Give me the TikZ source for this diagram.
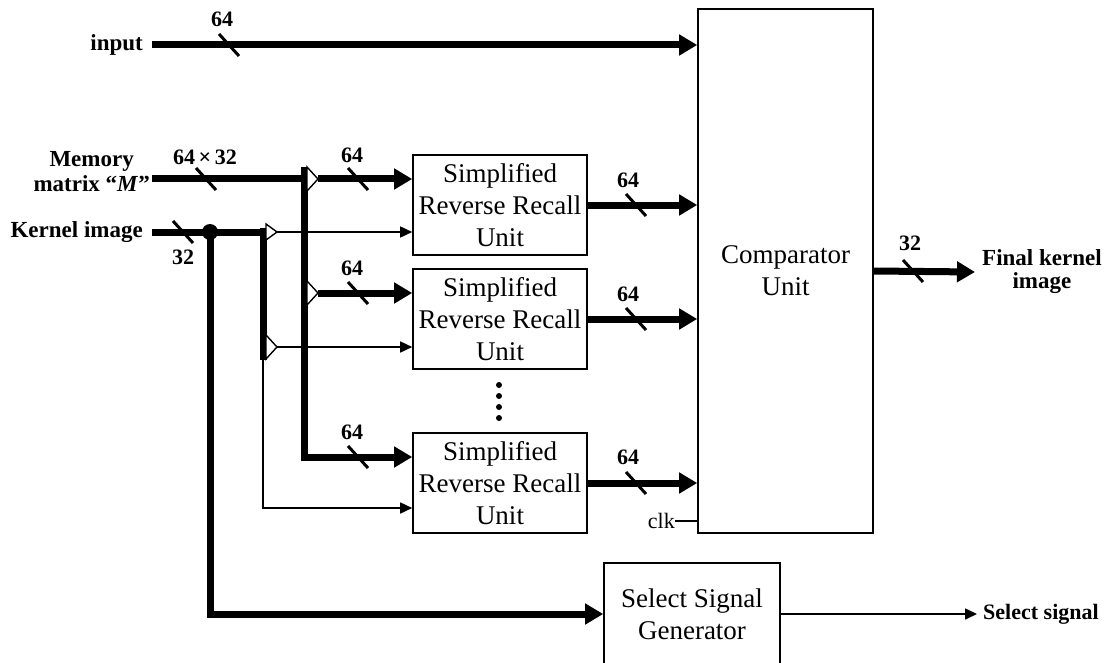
\documentclass[tikz,border=0pt]{standalone}
\usepackage{fontspec}
\setmainfont{Liberation Serif}
\usetikzlibrary{arrows.meta}
\usetikzlibrary{positioning}

\begin{document}
\begin{tikzpicture}[x=1pt,y=-1pt,
  blk/.style={draw,line width=1.6,inner sep=0pt,align=center,font=\fontsize{27}{32}\selectfont},
  lbl/.style={font=\bfseries\fontsize{23}{25}\selectfont,inner sep=0pt,align=center},
  num/.style={font=\bfseries\fontsize{22}{22}\selectfont,inner sep=0pt},
  bus/.style={line width=7,-{Triangle[length=18pt,width=20pt]}},
  busline/.style={line width=7},
  wire/.style={line width=1.6,-{Triangle[length=12pt,width=11pt]}},
  wireline/.style={line width=1.6},
  buf/.style={draw,fill=white,line width=1.4},
  dotnode/.style={circle,fill,inner sep=0pt,minimum size=#1},
  buscut/.pic={\draw[line width=3] (-10,-11) -- (10,11);}]
  \useasboundingbox (0,0) rectangle (1110,663);
  \node[blk,minimum width=175pt,minimum height=524pt] (cmp) at (785.5,271) {Comparator\\Unit};
  \node[blk,minimum width=174pt,minimum height=100pt] (srr1) at (500,205) {Simplified\\Reverse Recall\\Unit};
  \node[blk,minimum width=174pt,minimum height=100pt] (srr2) at (500,319) {Simplified\\Reverse Recall\\Unit};
  \node[blk,minimum width=174pt,minimum height=100pt] (srr3) at (500,483) {Simplified\\Reverse Recall\\Unit};
  \node[blk,minimum width=176pt,minimum height=102pt] (sel) at (692,614) {Select Signal\\Generator};
  \node[lbl,anchor=east] (in) at (143,45) {input};
  \node[lbl,anchor=east] (mem) at (150,172) {Memory\\matrix “\textit{M}”};
  \node[lbl,anchor=east] (ker) at (143,232) {Kernel image};
  \node[lbl,anchor=west,font=\bfseries\fontsize{23}{23}\selectfont] (fin) at (982,272) {Final kernel\\image};
  \node[lbl,anchor=west,font=\bfseries\fontsize{22}{22}\selectfont] (sig) at (983,614) {Select signal};
  \node[font=\fontsize{22}{22}\selectfont,inner sep=0pt,anchor=east] (clk) at (675,521) {clk};
  \foreach \k in {0,...,3}
    \node[dotnode=6pt] (dot\k) at (499,{385+11*\k}) {};
  \coordinate (inS) at (152,45);
  \coordinate (memS) at (152,179);
  \coordinate (kerS) at (152,232);
  \coordinate (mbarT) at (304,167);
  \coordinate (mbarB) at (304,457);
  \coordinate (kbarT) at (263,228);
  \coordinate (kbarB) at (263,360);
  \coordinate (kcorner) at (263,508);
  \coordinate (mb1) at (307,179);
  \coordinate (mb2) at (307,293);
  \coordinate (kb1) at (266,232);
  \coordinate (kb2) at (266,347);
  \coordinate (mt1) at (318,179);
  \coordinate (mt2) at (318,293);
  \coordinate (kt1) at (277,232);
  \coordinate (kt2) at (277,347);
  \draw[wire] (kt1) -- (kt1 -| srr1.west);
  \draw[wire] (kt2) -- (kt2 -| srr2.west);
  \draw[wire] (kbarB) -- (kcorner) -- (kcorner -| srr3.west);
  \draw[bus] (inS) -- (inS -| cmp.west);
  \draw[busline] (memS) -- (memS -| mbarT);
  \draw[bus] (mbarT) -- (mbarB) -- (mbarB -| srr3.west);
  \draw[busline] (kerS) -- (kerS -| kbarT);
  \draw[busline] (kbarT) -- (kbarB);
  \node[dotnode=16pt] (kdot) at (210,232) {};
  \draw[bus] (kdot.center) -- (kdot |- sel.west) -- (sel.west);
  \draw[buf] (mb1) ++(0,-12) -- ++(11,12) -- ++(-11,12) -- cycle;
  \draw[buf] (mb2) ++(0,-12) -- ++(11,12) -- ++(-11,12) -- cycle;
  \draw[buf] (kb1) ++(0,-8) -- ++(11,8) -- ++(-11,8) -- cycle;
  \draw[buf] (kb2) ++(0,-12) -- ++(11,12) -- ++(-11,12) -- cycle;
  \draw[bus] (mt1) -- (mt1 -| srr1.west);
  \draw[bus] (mt2) -- (mt2 -| srr2.west);
  \draw[bus] (srr1.east) -- (srr1.east -| cmp.west);
  \draw[bus] (srr2.east) -- (srr2.east -| cmp.west);
  \draw[bus] (srr3.east) -- (srr3.east -| cmp.west);
  \draw[bus] (cmp.east) -- ([xshift=-7pt]fin.west);
  \draw[wire] (sel.east) -- ([xshift=-6pt]sig.west);
  \draw[wireline] (clk.east) -- (clk.east -| cmp.west);
  \node[num] (w0) at (222,19) {64};
  \node[num] (w1) at (205,157) {64\,×\,32};
  \node[num] (w2) at (183,257) {32};
  \node[num] (w3) at (352,155) {64};
  \node[num] (w4) at (352,268) {64};
  \node[num] (w5) at (352,432) {64};
  \node[num] (w6) at (628,180) {64};
  \node[num] (w7) at (628,294) {64};
  \node[num] (w8) at (628,457) {64};
  \node[num] (w9) at (910,243) {32};
  \pic at (229,45) {buscut};
  \pic at (206,179) {buscut};
  \pic at (183,232) {buscut};
  \pic at (358,179) {buscut};
  \pic at (358,293) {buscut};
  \pic at (358,457) {buscut};
  \pic at (636,205) {buscut};
  \pic at (636,319) {buscut};
  \pic at (636,483) {buscut};
  \pic at (913,271) {buscut};
\end{tikzpicture}
\end{document}
